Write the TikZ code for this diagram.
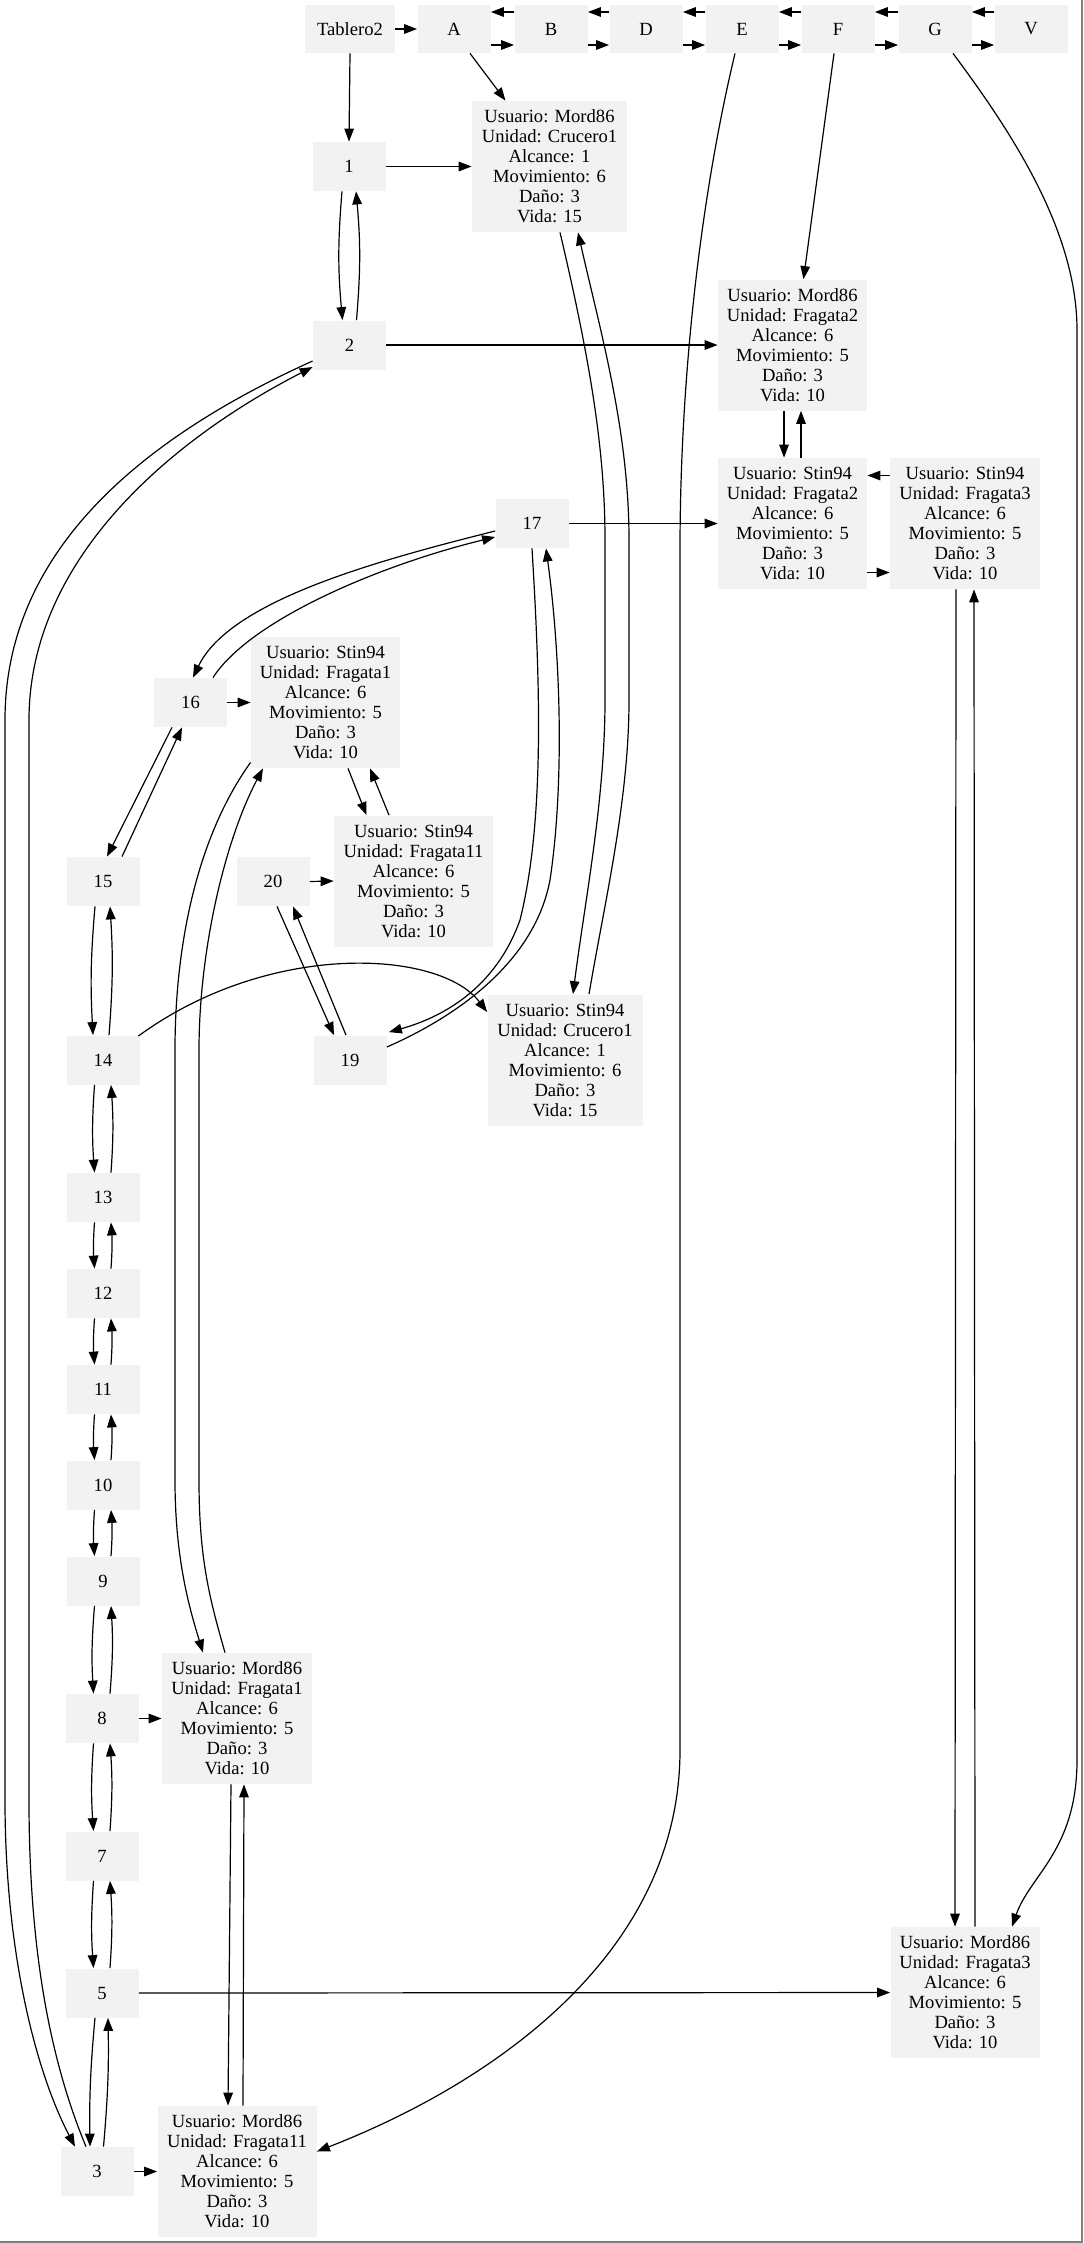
\documentclass[tikz,border=0pt]{standalone}
\usepackage{fontspec}
\setmainfont{Liberation Serif}
\usetikzlibrary{arrows.meta,calc}
\definecolor{boxgray}{HTML}{F2F2F2}
\newcommand{\nodefont}{\fontsize{9.3pt}{10pt}\selectfont}
\tikzset{
  box/.style={fill=boxgray, inner sep=0pt, font=\nodefont, align=center},
  sm/.style={box, minimum width=36.5pt, minimum height=24.5pt},
  big/.style={box, minimum width=#1, minimum height=65.5pt},
  edge/.style={draw, line width=0.6pt, -{Triangle[length=6.5pt,width=4.8pt]}},
}
\begin{document}
\begin{tikzpicture}[x=0.5pt,y=-0.5pt]
\useasboundingbox (0,0) rectangle (1083,2243);
\draw[gray, line width=1pt] (1082,0) -- (1082,2242) -- (0,2242);
% top row
\node[box, minimum width=45pt, minimum height=24pt] (tab) at (350,29) {Tablero2};
\node[sm, minimum height=24pt] (A) at (454,29) {A};
\node[sm, minimum height=24pt] (B) at (551,29) {B};
\node[sm, minimum height=24pt] (D) at (646,29) {D};
\node[sm, minimum height=24pt] (E) at (742,29) {E};
\node[sm, minimum height=24pt] (F) at (838,29) {F};
\node[sm, minimum height=24pt] (G) at (935,29) {G};
\node[sm, minimum height=24pt] (V) at (1031,29) {V};
% numbered nodes
\node[sm] (n1) at (349,166.5) {1};
\node[sm] (n2) at (349.5,345) {2};
\node[sm] (n17) at (532,523.5) {17};
\node[sm] (n16) at (190.5,702.5) {16};
\node[sm] (n15) at (103,881.5) {15};
\node[sm] (n20) at (273,881.5) {20};
\node[sm] (n14) at (103,1060) {14};
\node[sm] (n19) at (350,1060) {19};
\node[sm] (n13) at (103,1197.5) {13};
\node[sm] (n12) at (103,1293.5) {12};
\node[sm] (n11) at (103,1389.5) {11};
\node[sm] (n10) at (103,1485) {10};
\node[sm] (n9) at (103,1581) {9};
\node[sm] (n8) at (102,1718.5) {8};
\node[sm] (n7) at (102,1856) {7};
\node[sm] (n5) at (102,1993) {5};
\node[sm] (n3) at (97,2171.5) {3};
% unit nodes
\node[big=77.5pt] (mC1) at (549.5,166.5) {Usuario: Mord86\\Unidad: Crucero1\\Alcance: 1\\Movimiento: 6\\Daño: 3\\Vida: 15};
\node[big=74.5pt] (mF2) at (792.5,345) {Usuario: Mord86\\Unidad: Fragata2\\Alcance: 6\\Movimiento: 5\\Daño: 3\\Vida: 10};
\node[big=74.5pt] (sF2) at (792.5,523.5) {Usuario: Stin94\\Unidad: Fragata2\\Alcance: 6\\Movimiento: 5\\Daño: 3\\Vida: 10};
\node[big=75pt] (sF3) at (965,523.5) {Usuario: Stin94\\Unidad: Fragata3\\Alcance: 6\\Movimiento: 5\\Daño: 3\\Vida: 10};
\node[big=74.5pt] (sF1) at (325.5,702.5) {Usuario: Stin94\\Unidad: Fragata1\\Alcance: 6\\Movimiento: 5\\Daño: 3\\Vida: 10};
\node[big=79.5pt] (sF11) at (413.5,881) {Usuario: Stin94\\Unidad: Fragata11\\Alcance: 6\\Movimiento: 5\\Daño: 3\\Vida: 10};
\node[big=77.5pt] (sC1) at (565,1060) {Usuario: Stin94\\Unidad: Crucero1\\Alcance: 1\\Movimiento: 6\\Daño: 3\\Vida: 15};
\node[big=75pt] (mF1) at (237,1718.5) {Usuario: Mord86\\Unidad: Fragata1\\Alcance: 6\\Movimiento: 5\\Daño: 3\\Vida: 10};
\node[big=79.5pt] (mF11) at (237,2171.5) {Usuario: Mord86\\Unidad: Fragata11\\Alcance: 6\\Movimiento: 5\\Daño: 3\\Vida: 10};
\node[big=74.5pt] (mF3) at (965,1992.5) {Usuario: Mord86\\Unidad: Fragata3\\Alcance: 6\\Movimiento: 5\\Daño: 3\\Vida: 10};
% top row edges
\draw[edge] (tab.east) -- (A.west);
\foreach \a/\b in {A/B,B/D,D/E,E/F,F/G,G/V}{
  \draw[edge] ($(\b.west)+(0,-17)$) -- ($(\a.east)+(0,-17)$);
  \draw[edge] ($(\a.east)+(0,16)$) -- ($(\b.west)+(0,16)$);
}
\draw[edge] (tab.south) -- (n1.north);
\draw[edge] ($(A.south)+(16,0)$) -- ($(mC1.north)+(-44,0)$);
\draw[edge] ($(E.south)+(-7,0)$) .. controls (700,200) and (680,380) .. (680,550) -- (680,1750) .. controls (680,1950) and (500,2080) .. ($(mF11.east)+(0,-20)$);
\draw[edge] ($(F.south)+(-4,0)$) -- ($(mF2.north)+(11,0)$);
\draw[edge] ($(G.south)+(18,0)$) .. controls (1010,130) and (1077,230) .. (1077,330) -- (1077,1760) .. controls (1077,1850) and (1030,1875) .. ($(mF3.north)+(47,0)$);
% 1, 2
\draw[edge] (n1.east) -- (mC1.west);
\draw[edge] ($(n1.south)+(-7,0)$) to[bend right=5] ($(n2.north)+(-7,0)$);
\draw[edge] ($(n2.north)+(7,0)$) to[bend right=5] ($(n1.south)+(7,0)$);
\draw[edge] (n2.east) -- (mF2.west);
\draw[edge] ($(n2.west)+(0,16)$) .. controls (160,430) and (5,540) .. (5,720) -- (5,1800) .. controls (5,1950) and (35,2070) .. ($(n3.north)+(-22,0)$);
\draw[edge] ($(n3.north)+(-11,0)$) .. controls (50,2060) and (29,1950) .. (29,1800) -- (29,720) .. controls (29,560) and (170,440) .. ($(n2.west)+(0,22)$);
% crucero pair
\draw[edge] ($(mC1.south)+(10.5,0)$) .. controls (590,360) and (605,450) .. (605,540) -- (605,700) .. controls (605,800) and (585,900) .. ($(sC1.north)+(8,0)$);
\draw[edge] ($(sC1.north)+(24,0)$) .. controls (605,900) and (629,800) .. (629,700) -- (629,540) .. controls (629,430) and (600,330) .. ($(mC1.south)+(28.5,0)$);
% fragata2/3 cluster
\draw[edge] ($(mF2.south)+(-8.5,0)$) -- ($(sF2.north)+(-8.5,0)$);
\draw[edge] ($(sF2.north)+(8.5,0)$) -- ($(mF2.south)+(8.5,0)$);
\draw[edge] ($(sF3.west)+(0,-48)$) -- ($(sF2.east)+(0,-48)$);
\draw[edge] ($(sF2.east)+(0,49)$) -- ($(sF3.west)+(0,49)$);
\draw[edge] (n17.east) -- (sF2.west);
\draw[edge] ($(sF3.south)+(-9,0)$) -- ($(mF3.north)+(-10,0)$);
\draw[edge] ($(mF3.north)+(10,0)$) -- ($(sF3.south)+(9,0)$);
% 17, 16
\draw[edge] ($(n17.west)+(0,7.5)$) .. controls (380,560) and (230,600) .. ($(n16.north)+(2.5,0)$);
\draw[edge] ($(n16.north)+(22.5,0)$) .. controls (250,620) and (380,565) .. ($(n17.west)+(0,13.5)$);
\draw[edge] (n16.east) -- (sF1.west);
\draw[edge] ($(n16.south)+(-18.5,0)$) -- ($(n15.north)+(4,0)$);
\draw[edge] ($(n15.north)+(19,0)$) -- ($(n16.south)+(-8.5,0)$);
\draw[edge] ($(sF1.south)+(22.5,0)$) -- ($(sF11.north)+(-47,0)$);
\draw[edge] ($(sF11.north)+(-24.5,0)$) -- ($(sF1.south)+(44.5,0)$);
\draw[edge] ($(sF1.south west)+(0,-6)$) .. controls (195,840) and (175,950) .. (175,1050) -- (175,1480) .. controls (175,1560) and (190,1610) .. ($(mF1.north)+(-34,0)$);
\draw[edge] ($(mF1.north)+(-12,0)$) .. controls (210,1600) and (199,1560) .. (199,1480) -- (199,1050) .. controls (199,950) and (225,840) .. ($(sF1.south)+(-62.5,0)$);
% 20, 19
\draw[edge] (n20.east) -- (sF11.west);
\draw[edge] ($(n20.south)+(4,0)$) -- ($(n19.north)+(-16,0)$);
\draw[edge] ($(n19.north)+(-4,0)$) -- ($(n20.south)+(20,0)$);
\draw[edge] (n17.south) .. controls (540,680) and (545,820) .. (520,920) .. controls (495,990) and (440,1018) .. ($(n19.north east)+(2,-3)$);
\draw[edge] ($(n19.east)+(0,-13)$) .. controls (460,1015) and (535,960) .. (550,880) .. controls (565,780) and (560,650) .. ($(n17.south)+(14,0)$);
% 14, 15
\draw[edge] ($(n14.east)+(-1.5,-24)$) .. controls (270,940) and (440,950) .. ($(sC1.west)+(0,-48)$);
\draw[edge] ($(n15.south)+(-8,0)$) to[bend right=4] ($(n14.north)+(-10,0)$);
\draw[edge] ($(n14.north)+(6,0)$) to[bend right=4] ($(n15.south)+(7,0)$);
% chain
\foreach \a/\b in {n14/n13,n13/n12,n12/n11,n11/n10,n10/n9,n9/n8,n8/n7,n7/n5}{
  \draw[edge] ($(\a.south)+(-8.5,0)$) to[bend right=4] ($(\b.north)+(-8.5,0)$);
  \draw[edge] ($(\b.north)+(8,0)$) to[bend right=4] ($(\a.south)+(8,0)$);
}
\draw[edge] ($(n5.south)+(-7,0)$) to[bend right=3] ($(n3.north)+(-7,0)$);
\draw[edge] ($(n3.north)+(6.5,0)$) to[bend right=3] ($(n5.south)+(6,0)$);
% lower cluster
\draw[edge] (n8.east) -- (mF1.west);
\draw[edge] ($(mF1.south)+(-6,0)$) -- ($(mF11.north)+(-9,0)$);
\draw[edge] ($(mF11.north)+(6,0)$) -- ($(mF1.south)+(7,0)$);
\draw[edge] (n5.east) -- (mF3.west);
\draw[edge] (n3.east) -- (mF11.west);
\end{tikzpicture}
\end{document}
